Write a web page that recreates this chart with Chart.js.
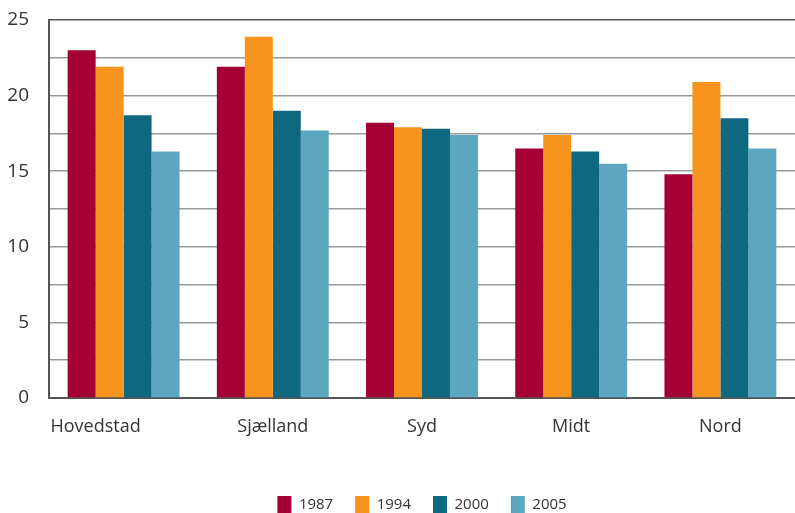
<!DOCTYPE html>
<html><head><meta charset="utf-8">
<script src="https://cdn.jsdelivr.net/npm/chart.js@4"></script>
<style>html,body{margin:0;padding:0;background:#fff;overflow:hidden}#w{width:795px;height:523px}</style>
</head><body><div id="w"><canvas id="c"></canvas></div>
<script>
const categories = ["Hovedstad", "Sjælland", "Syd", "Midt", "Nord"];
const years = ["1987", "1994", "2000", "2005"];
const v1987 = [23.0, 21.9, 18.2, 16.5, 14.8];
const v1994 = [21.9, 23.9, 17.9, 17.4, 20.9];
const v2000 = [18.7, 19.0, 17.8, 16.3, 18.5];
const v2005 = [16.3, 17.7, 17.4, 15.5, 16.5];
const colors = ["#a50034", "#f7941d", "#0e6880", "#5aa7bf"];
const series = [v1987, v1994, v2000, v2005];
const FONT = "'Open Sans', 'Noto Sans', sans-serif";
new Chart(document.getElementById('c'), {
  type: 'bar',
  data: {
    labels: categories,
    datasets: series.map((d, i) => ({ label: years[i], data: d, backgroundColor: colors[i], borderWidth: 0 }))
  },
  options: {
    responsive: true, maintainAspectRatio: false, animation: false,
    layout: { padding: { top: 0, right: 0, left: 0, bottom: 0 } },
    datasets: { bar: { categoryPercentage: 0.75, barPercentage: 1.0 } },
    plugins: {
      tooltip: { enabled: false },
      legend: {
        position: 'bottom', fullSize: false,
        labels: { boxWidth: 14, boxHeight: 17, padding: 22, color: '#333', font: { family: FONT, size: 15 } }
      }
    },
    scales: {
      x: {
        grid: { display: false, drawTicks: false },
        border: { display: true, color: '#555', width: 2 },
        ticks: { color: '#333', padding: 18, maxRotation: 0, minRotation: 0, autoSkip: false, font: { family: FONT, size: 18 },
          callback: function (v, i) { const l = this.getLabelForValue(v); return i === 0 ? l + '            ' : l; } },
        afterFit: (s) => { s.height = 76; }
      },
      y: {
        min: 0, max: 25,
        grid: { drawTicks: false, color: (ctx) => (ctx.tick && (ctx.tick.value === 25) ? '#555' : '#999'), lineWidth: 1.5 },
        border: { display: true, color: '#555', width: 2 },
        ticks: { stepSize: 2.5, color: '#333', padding: 20, font: { family: FONT, size: 19 },
          callback: (v) => (v % 5 === 0 ? String(v) : '') },
        afterFit: (s) => { s.width = 49; s.paddingTop = 20; }
      }
    }
  }
});
</script></body></html>
